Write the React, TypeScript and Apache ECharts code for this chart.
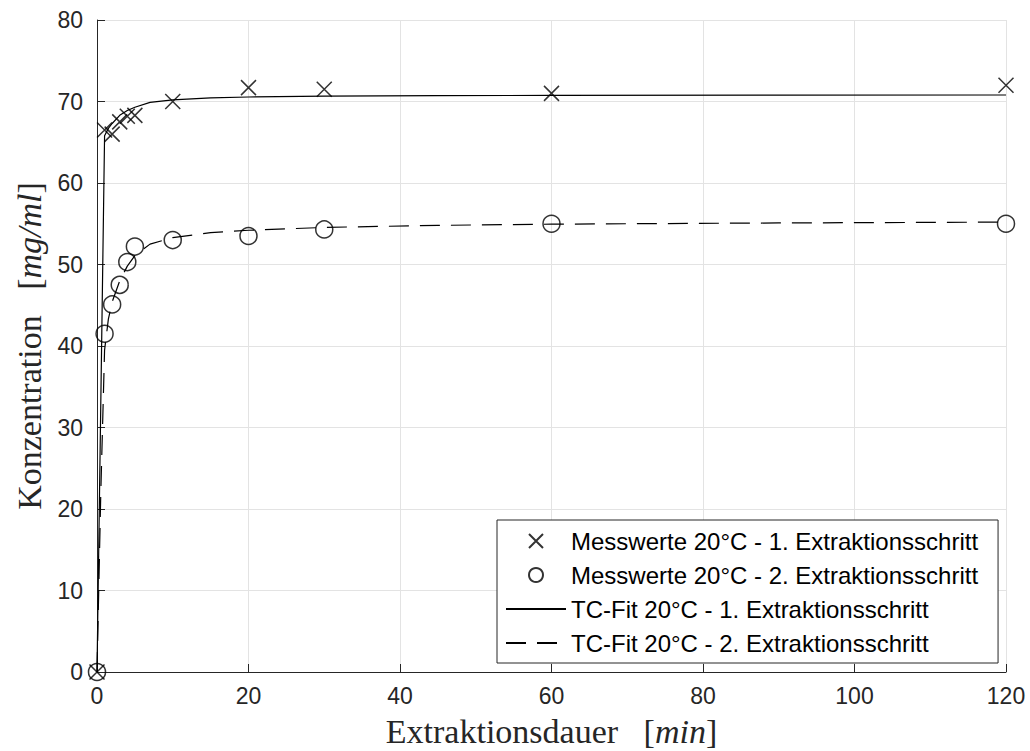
import React, { useEffect, useRef } from "react";
import * as echarts from "echarts";

const seriesNames = [
  "Messwerte 20°C - 1. Extraktionsschritt",
  "Messwerte 20°C - 2. Extraktionsschritt",
  "TC-Fit 20°C - 1. Extraktionsschritt",
  "TC-Fit 20°C - 2. Extraktionsschritt",
];

const measuredTime = [0, 1, 2, 3, 4, 5, 10, 20, 30, 60, 120];
const measured1 = [0, 66.5, 66.0, 67.5, 68.2, 68.3, 70.0, 71.7, 71.5, 71.0, 72.0];
const measured2 = [0, 41.5, 45.1, 47.5, 50.3, 52.2, 53.0, 53.5, 54.3, 55.0, 55.0];

const fit1Time = [0, 1, 1.5, 2, 3, 4, 5, 7, 10, 15, 20, 30, 45, 60, 90, 120];
const fit1 = [0, 65.8, 66.7, 67.3, 68.3, 68.9, 69.3, 69.9, 70.2, 70.45, 70.55, 70.65, 70.72, 70.75, 70.78, 70.8];
const fit2Time = [0, 0.5, 1, 1.5, 2, 3, 4, 5, 7, 10, 15, 20, 30, 45, 60, 90, 120];
const fit2 = [0, 22, 39.5, 43.3, 45.4, 48.0, 49.8, 51.1, 52.5, 53.3, 53.9, 54.2, 54.55, 54.8, 54.95, 55.1, 55.2];

const xTicks = { min: 0, max: 120, interval: 20 };
const yTicks = { min: 0, max: 80, interval: 10 };

const pairs = (xs: number[], ys: number[]) => xs.map((x, i) => [x, ys[i]]);

export default function App() {
  const ref = useRef<HTMLDivElement>(null);
  useEffect(() => {
    if (!ref.current) return;
    const chart = echarts.init(ref.current, undefined, { renderer: "svg" });
    const axisColor = "#262626";
    const tickFont = "'Liberation Sans', Arial, Helvetica, sans-serif";
    const serif = "'Liberation Serif', 'Times New Roman', serif";
    const nameRich = {
      r: { fontFamily: serif, fontSize: 34, color: axisColor },
      i: { fontFamily: serif, fontSize: 34, fontStyle: "italic", color: axisColor },
    };
    chart.setOption({
      animation: false,
      backgroundColor: "#ffffff",
      grid: {
        left: 97,
        top: 20,
        right: 24,
        bottom: 79,
        containLabel: false,
        outerBoundsMode: "none",
      },
      xAxis: {
        type: "value",
        min: xTicks.min,
        max: xTicks.max,
        interval: xTicks.interval,
        name: "{r|Extraktionsdauer   [}{i|min}{r|]}",
        nameLocation: "middle",
        nameGap: 42,
        nameTextStyle: { rich: nameRich },
        axisLine: { show: true, lineStyle: { color: axisColor, width: 1 } },
        axisTick: { show: true, inside: true, length: 8, lineStyle: { color: axisColor } },
        axisLabel: { color: axisColor, fontSize: 23, fontFamily: tickFont, margin: 12 },
        splitLine: { show: true, lineStyle: { color: "#e3e3e3", width: 1 } },
      },
      yAxis: {
        type: "value",
        min: yTicks.min,
        max: yTicks.max,
        interval: yTicks.interval,
        name: "{r|Konzentration   [}{i|mg/ml}{r|]}",
        nameLocation: "middle",
        nameRotate: 90,
        nameGap: 50,
        nameTextStyle: { rich: nameRich },
        axisLine: { show: true, lineStyle: { color: axisColor, width: 1 } },
        axisTick: { show: true, inside: true, length: 8, lineStyle: { color: axisColor } },
        axisLabel: { color: axisColor, fontSize: 23, fontFamily: tickFont, margin: 14 },
        splitLine: { show: true, lineStyle: { color: "#e3e3e3", width: 1 } },
      },
      legend: {
        orient: "vertical",
        left: 497,
        top: 520,
        data: [
          { name: seriesNames[0] },
          { name: seriesNames[1] },
          { name: seriesNames[2], itemStyle: { opacity: 0 } },
          { name: seriesNames[3], itemStyle: { opacity: 0 } },
        ],
        backgroundColor: "#ffffff",
        borderColor: axisColor,
        borderWidth: 1,
        padding: [9, 20, 8, 8],
        itemWidth: 60,
        itemHeight: 14,
        itemGap: 10,
        textStyle: { fontSize: 24, fontFamily: tickFont, color: "#000" },
        selectedMode: false,
      },
      series: [
        {
          name: seriesNames[2],
          type: "line",
          data: pairs(fit1Time, fit1),
          symbol: "none",
          lineStyle: { color: "#000", width: 1.2, type: "solid" },
          itemStyle: { color: "#000" },
          z: 2,
        },
        {
          name: seriesNames[3],
          type: "line",
          data: pairs(fit2Time, fit2),
          symbol: "none",
          lineStyle: { color: "#000", width: 1.2, type: [20, 11] },
          itemStyle: { color: "#000" },
          z: 2,
        },
        {
          name: seriesNames[0],
          type: "scatter",
          data: pairs(measuredTime, measured1),
          symbol: "path://M0,0L10,10M10,0L0,10",
          symbolSize: 15,
          itemStyle: { color: "transparent", borderColor: "#000", borderWidth: 1.5 },
          z: 3,
        },
        {
          name: seriesNames[1],
          type: "scatter",
          data: pairs(measuredTime, measured2),
          symbol: "circle",
          symbolSize: 17,
          itemStyle: { color: "transparent", borderColor: "#000", borderWidth: 1.5 },
          z: 3,
        },
      ],
    });
    return () => chart.dispose();
  }, []);
  return (
    <div
      ref={ref}
      style={{ position: "fixed", left: 0, top: 0, width: 1030, height: 751 }}
    />
  );
}
